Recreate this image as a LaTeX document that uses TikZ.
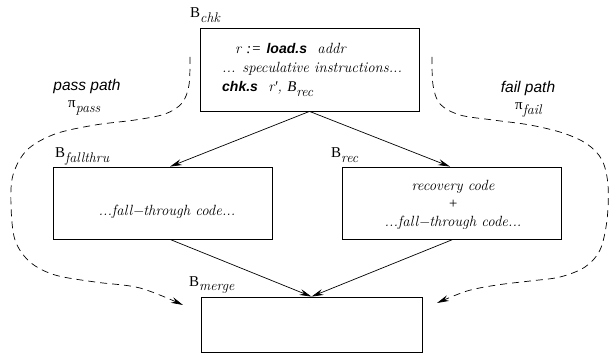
\documentclass[tikz,border=0pt]{standalone}
\usepackage{fontspec}
\setsansfont{Liberation Sans}
\newfontfamily\tms{Liberation Serif}
\usetikzlibrary{arrows.meta}

% italic serif for code text and subscripts
\newcommand\serifit{\rmfamily\itshape}
% block label with a lowered italic subscript
\newcommand\blab[2]{{\tms #1}\raisebox{-0.32em}{\fontsize{14}{14}\selectfont\serifit #2}}
% opcode in bold oblique sans
\newcommand\opc[1]{{\fontsize{14}{14}\selectfont\sffamily\bfseries\itshape #1}}

\tikzset{
  blk/.style={draw, line width=0.8pt, inner sep=0pt},
  txt/.style={inner sep=0pt, font=\fontsize{14.8}{17}\selectfont\serifit},
  lab/.style={inner sep=0pt, anchor=base west, font=\fontsize{15}{17}\selectfont\tms},
  plab/.style={inner sep=0pt, anchor=base, font=\fontsize{15.5}{17}\selectfont\sffamily\itshape},
  flow/.style={line width=0.7pt, -{Stealth[length=12pt,width=6pt,inset=4pt]}},
  dpath/.style={line width=0.7pt, dash pattern=on 7pt off 5pt,
                -{Stealth[length=12pt,width=6pt,inset=4pt]}},
}

\begin{document}
\begin{tikzpicture}[x=1pt,y=-1pt]
\path[use as bounding box] (0,0) rectangle (610,358);

% basic blocks
\node[blk, minimum width=219pt, minimum height=83pt] (chk)   at (309.5,69.5) {};
\node[blk, minimum width=219pt, minimum height=72pt] (fall)  at (162.5,203) {};
\node[blk, minimum width=219pt, minimum height=72pt] (rec)   at (451.5,203) {};
\node[blk, minimum width=221pt, minimum height=55pt] (merge) at (311.5,324.5) {};

% block names
\node[lab] (lchk)   at (190,18)  {\blab{B}{chk}};
\node[lab] (lfall)  at (55,158)  {\blab{B}{fallthru}};
\node[lab] (lrec)   at (331,158) {\blab{B}{rec}};
\node[lab] (lmerge) at (189,286) {\blab{B}{merge}};

% contents of the check block
\node[txt, anchor=base west] (c1) at (235,54) {r {\tms :=} \opc{load.s}\ \ addr};
\node[txt, anchor=base west] (c2) at (222,73) {... speculative instructions...};
\node[txt, anchor=base west] (c3) at (222,92) {\opc{chk.s}\ \ r{\tms '}, \blab{B}{rec}};

% contents of the successor blocks
\node[txt, anchor=base] (f1) at (167,215) {...fall\textminus through code...};
\node[txt, anchor=base] (r1) at (453,190) {recovery code};
\node[txt, anchor=base] (r2) at (453,208) {{\tms +}};
\node[txt, anchor=base] (r3) at (453,226) {...fall\textminus through code...};

% path names
\node[plab] (pp)  at (87,91)  {pass path};
\node[lab]  (ppi) at (68,108) {π\raisebox{-0.3em}{\fontsize{14}{14}\selectfont\serifit pass}};
\node[plab] (fp)  at (528,93) {fail path};
\node[lab]  (fpi) at (515,110) {π\raisebox{-0.3em}{\fontsize{14}{14}\selectfont\serifit fail}};

% control flow edges
\draw[flow] (chk.south) -- ([xshift=7.5pt]fall.north);
\draw[flow] (chk.south) -- ([xshift=-1.5pt]rec.north);
\draw[flow] ([xshift=7.5pt]fall.south) -- (merge.north);
\draw[flow] ([xshift=1.5pt]rec.south) -- (merge.north);

% dashed execution paths
\coordinate (ps) at (190,57);
\coordinate (pe) at (183,305);
\coordinate (fs) at (432,57);
\coordinate (fe) at (437,303);
\draw[dpath] plot[smooth, tension=0.55] coordinates {
  (ps) (189,85) (182,103) (165,114) (135,120) (95,125) (55,134) (27,150)
  (13,175) (11,205) (15,240) (30,262) (55,275) (95,282) (140,288) (pe)};
\draw[dpath] plot[smooth, tension=0.55] coordinates {
  (fs) (433,85) (440,104) (460,115) (493,120) (530,125) (563,133) (587,144)
  (602,160) (608,185) (607,220) (600,250) (585,267) (560,277) (530,281)
  (497,285) (467,291) (fe)};
\end{tikzpicture}
\end{document}
